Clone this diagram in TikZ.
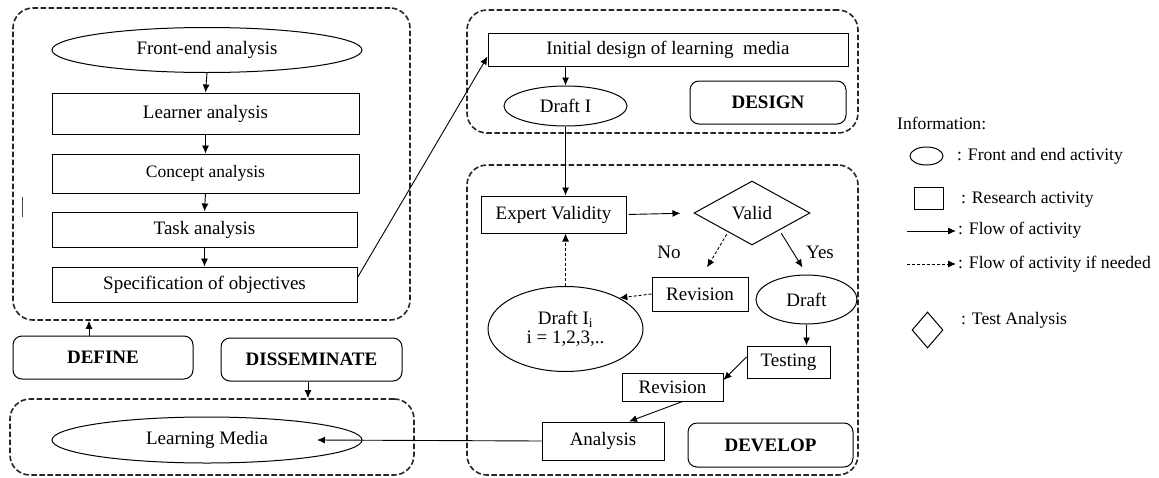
\documentclass[tikz,border=0pt]{standalone}
\usepackage{fontspec}
\setmainfont{Liberation Serif}
\usetikzlibrary{shapes.geometric,arrows.meta}
\tikzset{
  base/.style={inner sep=0pt, font=\fontsize{19}{21}\selectfont},
  box/.style={base, draw, line width=1pt, rectangle},
  ell/.style={base, draw, line width=1pt, ellipse},
  dia/.style={base, draw, line width=1pt, diamond},
  lbl/.style={base, draw, line width=1pt, rounded corners=9pt, font=\fontsize{19}{21}\selectfont\bfseries},
  grp/.style={draw=black!85, line width=1.6pt, dash pattern=on 5.5pt off 2.5pt, rounded corners=20pt, inner sep=0pt},
  arr/.style={-{Latex[length=8pt,width=7pt]}, line width=0.9pt},
  darr/.style={arr, dash pattern=on 3pt off 2pt},
  legtxt/.style={base, anchor=west, font=\fontsize{17.6}{20}\selectfont},
}
\begin{document}
\begin{tikzpicture}[x=1pt,y=-1pt]
\useasboundingbox (0,0) rectangle (1159,477);
% groups
\node[grp, minimum width=397, minimum height=312] (defgrp) at (211.5,164) {};
\node[grp, minimum width=404, minimum height=76] (disgrp) at (212,437) {};
\node[grp, minimum width=391, minimum height=123] (desgrp) at (662.5,71.5) {};
\node[grp, minimum width=391, minimum height=310] (devgrp) at (662.5,320) {};
% define
\node[ell, minimum width=310, minimum height=45] (fe) at (207,50) {Front-end analysis};
\node[box, minimum width=307, minimum height=41] (learner) at (205.5,113.5) {Learner analysis};
\node[box, minimum width=307, minimum height=39, font=\fontsize{17.5}{20}\selectfont] (concept) at (205.5,173.5) {Concept analysis};
\node[box, minimum width=305, minimum height=35] (task) at (204.5,229.5) {Task analysis};
\node[box, minimum width=305, minimum height=35] (spec) at (204.5,284.5) {Specification of objectives};
\node[lbl, minimum width=180, minimum height=43] (define) at (103,357.5) {DEFINE};
\node[lbl, minimum width=181, minimum height=43] (dissem) at (311.5,359.5) {DISSEMINATE};
\node[ell, minimum width=310, minimum height=46] (lm) at (207,440) {Learning Media};
\coordinate (lmtip) at (317,440);
\draw[black!70, line width=0.8pt] (22,197) -- (22,217);
% design
\node[box, minimum width=360, minimum height=33] (init) at (668,49.5) {Initial design of learning\ \ media};
\node[ell, minimum width=123, minimum height=40] (d1) at (565.5,106) {Draft I};
\node[lbl, minimum width=156, minimum height=43] (design) at (768,102.5) {DESIGN};
% develop
\node[box, minimum width=145, minimum height=37] (ev) at (553.5,214.5) {Expert Validity};
\node[dia, minimum width=116, minimum height=64] (valid) at (752,213) {Valid};
\node[box, minimum width=96, minimum height=34] (rev1) at (700,294) {Revision};
\node[ell, minimum width=101, minimum height=49] (draft) at (806.5,299.5) {Draft};
\node[ell, minimum width=155, minimum height=85, align=center] (dii) at (565.5,329) {Draft I\textsubscript{i}\\[-2pt]i = 1,2,3,..};
\node[box, minimum width=83, minimum height=32] (testing) at (788.5,362) {Testing};
\node[box, minimum width=101, minimum height=28] (rev2) at (672.5,387) {Revision};
\node[box, minimum width=122, minimum height=38] (analysis) at (603,441) {Analysis};
\node[lbl, minimum width=165, minimum height=44] (develop) at (770.5,445) {DEVELOP};
\node[base] (no) at (669,252) {No};
\node[base] (yes) at (820,252) {Yes};
% arrows
\draw[arr] (fe.south) -- (learner.north);
\draw[arr] (learner.south) -- (concept.north);
\draw[arr] (concept.south) -- (task.north);
\draw[arr] (task.south) -- (spec.north);
\draw[arr] ([yshift=7pt]spec.east) -- ([yshift=-7pt]init.west);
\draw[arr] ([xshift=-14pt]define.north) -- ([xshift=-14pt]define.north |- defgrp.south);
\draw[arr] ([xshift=-3.5pt]dissem.south) -- ([xshift=-3.5pt]dissem.south |- disgrp.north);
\draw[arr] (init.south -| d1.north) -- (d1.north);
\draw[arr] (d1.south) -- (d1.south |- ev.north);
\draw[arr, shorten >=13pt, shorten <=2pt] (ev.east) -- (valid.west);
\draw[darr] ([xshift=4pt,yshift=-5pt]valid.south west) -- ([xshift=7pt,yshift=9pt]rev1.north);
\draw[arr] ([yshift=-4pt]valid.south east) -- ([xshift=-4pt,yshift=7pt]draft.north);
\draw[darr] (rev1.west) -- (dii.30);
\draw[darr] (dii.north) -- (dii.north |- ev.south);
\draw[arr] (draft.south) -- (draft.south |- testing.north);
\draw[arr] ([yshift=5pt]testing.west) -- ([yshift=7pt]rev2.east);
\draw[arr] ([xshift=10pt]rev2.south) -- ([xshift=26pt]analysis.north);
\draw[arr] (analysis.west) -- (lmtip);
% legend
\node[legtxt] (info) at (897,123) {Information:};
\node[ell, minimum width=33, minimum height=18] (lgell) at (926.5,156) {};
\node[legtxt] (lgellt) at (957,156) {: Front and end activity};
\node[box, minimum width=29, minimum height=22] (lgbox) at (928.5,198) {};
\node[legtxt] (lgboxt) at (961,199) {: Research activity};
\coordinate (la1) at (907,231);
\coordinate (la2) at (956,231);
\draw[arr] (la1) -- (la2);
\node[legtxt] (lgarrt) at (958,230) {: Flow of activity};
\coordinate (lb1) at (907,264);
\coordinate (lb2) at (956,264);
\draw[darr] (lb1) -- (lb2);
\node[legtxt] (lgdarrt) at (958,264) {: Flow of activity if needed};
\node[dia, minimum width=31, minimum height=36] (lgdia) at (927.5,330) {};
\node[legtxt] (lgdiat) at (961,320) {: Test Analysis};
\end{tikzpicture}
\end{document}
